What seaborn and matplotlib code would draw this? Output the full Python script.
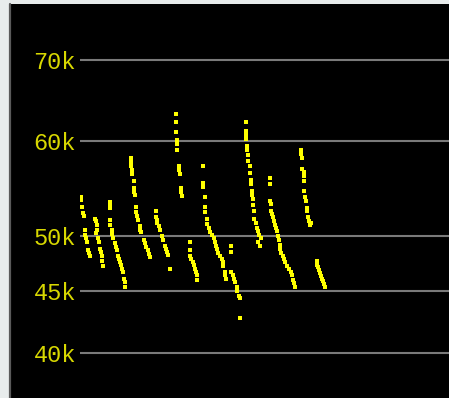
import matplotlib
matplotlib.use("Agg")
import matplotlib.pyplot as plt
import seaborn as sns
import pandas as pd
from matplotlib.patches import Rectangle
from matplotlib.lines import Line2D
from matplotlib.ticker import NullLocator, NullFormatter

# Price runs (sample index, price in thousands)
run1_x = [81, 81, 82, 83, 84, 85, 85, 86, 87, 88, 89, 90]
run1_y = [53.9, 53.6, 52.9, 52.3, 52.0, 50.6, 50.1, 49.8, 49.4, 48.7, 48.4, 48.1]
run2_x = [95, 96, 97, 97, 96, 98, 99, 100, 101, 102, 102, 103]
run2_y = [51.7, 51.5, 51.1, 50.6, 50.3, 49.8, 49.4, 48.8, 48.5, 48.1, 47.7, 47.2]
run3_x = [110, 110, 110, 110, 110, 112, 112, 113, 115, 116, 117, 118, 119, 120,
          121, 122, 123, 124, 125, 125]
run3_y = [53.4, 53.1, 52.8, 51.6, 51.1, 50.6, 50.2, 49.8, 49.3, 49.0, 48.7, 48.1,
          47.9, 47.6, 47.3, 47.0, 46.7, 46.1, 45.8, 45.4]
run4_x = [131, 131, 131, 132, 132, 134, 134, 134, 135, 136, 136, 137, 138, 140,
          140, 141, 144, 145, 146, 148, 149, 150]
run4_y = [58.1, 57.6, 57.2, 56.7, 56.3, 55.6, 54.8, 54.4, 54.1, 52.9, 52.4, 52.0,
          51.6, 51.0, 50.6, 50.4, 49.6, 49.3, 49.0, 48.7, 48.3, 48.0]
run5_x = [156, 156, 157, 157, 159, 160, 162, 163, 165, 166, 167, 168, 170]
run5_y = [52.5, 51.9, 51.6, 51.3, 51.0, 50.6, 50.0, 49.6, 49.1, 48.8, 48.5, 48.2, 47.0]
run6_x = [176, 176, 176, 177, 177, 177, 179, 179, 180, 181, 181, 182]
run6_y = [63.1, 62.2, 61.0, 60.1, 59.6, 58.9, 57.2, 56.7, 56.3, 54.8, 54.4, 54.0]
run7_x = [190, 190, 190, 191, 193, 194, 195, 196, 197, 197]
run7_y = [49.4, 48.7, 48.1, 47.9, 47.6, 47.3, 47.0, 46.7, 46.4, 46.0]
run8_x = [203, 203, 203, 205, 205, 205, 207, 207, 209, 210, 212, 214, 215, 216,
          217, 218, 220, 222, 223, 223, 225, 225, 226]
run8_y = [57.2, 55.3, 54.9, 53.9, 52.9, 52.4, 51.7, 51.2, 50.8, 50.4, 50.1, 49.8,
          49.4, 49.1, 48.8, 48.4, 48.1, 47.9, 47.6, 47.2, 46.7, 46.4, 46.1]
run9_x = [231, 231, 231, 233, 234, 235, 237, 237, 239, 240, 240]
run9_y = [49.1, 48.5, 46.7, 46.4, 46.1, 45.8, 45.4, 45.0, 44.6, 44.4, 42.8]
run10_x = [246, 246, 246, 246, 247, 247, 248, 248, 250, 250, 251, 251, 252, 252,
           253, 253, 254, 254, 256, 257, 258, 259, 261, 258, 260]
run10_y = [62.2, 61.1, 60.6, 60.2, 59.4, 58.9, 58.4, 57.7, 57.2, 56.4, 55.7, 55.2,
           54.5, 54.1, 53.7, 53.1, 52.5, 51.7, 51.3, 50.8, 50.5, 50.1, 49.8, 49.4, 49.1]
run11_x = [270, 270, 270, 271, 271, 272, 273, 274, 275, 276, 277, 278, 279, 280,
           280, 281, 283, 284, 285, 287, 289, 291, 292, 293, 294, 295]
run11_y = [55.9, 55.2, 53.5, 53.2, 52.5, 52.2, 51.9, 51.5, 51.1, 50.8, 50.5, 50.0,
           49.6, 49.2, 48.8, 48.4, 48.1, 47.9, 47.6, 47.2, 47.0, 46.7, 46.4, 46.0,
           45.7, 45.4]
run12_x = [301, 301, 302, 302, 304, 304, 304, 304, 305, 306, 307, 307, 308, 309, 310, 311]
run12_y = [58.9, 58.5, 58.0, 56.8, 56.5, 56.1, 55.6, 54.5, 53.9, 53.5, 52.8, 52.5,
           51.9, 51.5, 51.1, 51.3]
run13_x = [317, 317, 318, 319, 320, 321, 322, 323, 324, 325]
run13_y = [47.7, 47.3, 47.1, 46.9, 46.6, 46.3, 46.1, 45.9, 45.6, 45.4]

tick_values = [40000, 45000, 50000, 60000, 70000]
tick_labels = ["40k", "45k", "50k", "60k", "70k"]

runs_x = [run1_x, run2_x, run3_x, run4_x, run5_x, run6_x, run7_x, run8_x,
          run9_x, run10_x, run11_x, run12_x, run13_x]
runs_y = [run1_y, run2_y, run3_y, run4_y, run5_y, run6_y, run7_y, run8_y,
          run9_y, run10_y, run11_y, run12_y, run13_y]
df = pd.DataFrame({
    "sample": [x for r in runs_x for x in r],
    "price": [y * 1000 for r in runs_y for y in r],
})

sns.set_theme(style="dark")
plt.rcParams["font.family"] = ["Liberation Mono", "DejaVu Sans Mono"]

W, H = 449, 398
fig = plt.figure(figsize=(W / 100, H / 100), dpi=100, facecolor="#e8ecec")

# black display panel with a dark left edge
fig.patches.append(Rectangle((10.5 / W, 0), (W - 10.5) / W, 394 / H,
                             transform=fig.transFigure, facecolor="black",
                             edgecolor="none", zorder=-2))
fig.lines.append(Line2D([9.5 / W, 9.5 / W], [0, 394 / H], transform=fig.transFigure,
                        color="#5a5a5a", lw=1.6, zorder=-1))

ax = fig.add_axes([80 / W, 0, (W - 80) / W, 394 / H])
ax.set_zorder(1)
ax.set_facecolor("black")

sns.scatterplot(data=df, x="sample", y="price", marker="s", s=7,
                color="#ffff00", linewidth=0, ax=ax, zorder=3)

ax.set_yscale("log")
ax.set_ylim(36700, 77900)
ax.set_xlim(80, 449)
ax.yaxis.set_minor_locator(NullLocator())
ax.yaxis.set_minor_formatter(NullFormatter())
ax.set_yticks(tick_values)
ax.set_yticklabels(tick_labels)
ax.set_xticks([])
ax.grid(axis="y", color="#7a7a7a", lw=1.5, zorder=1)
ax.grid(axis="x", visible=False)
ax.tick_params(axis="y", length=0, pad=3, labelcolor="#d8d800", labelsize=17)
for sp in ax.spines.values():
    sp.set_visible(False)
ax.set_xlabel("")
ax.set_ylabel("")

fig.savefig("out.png", dpi=100, facecolor=fig.get_facecolor())
